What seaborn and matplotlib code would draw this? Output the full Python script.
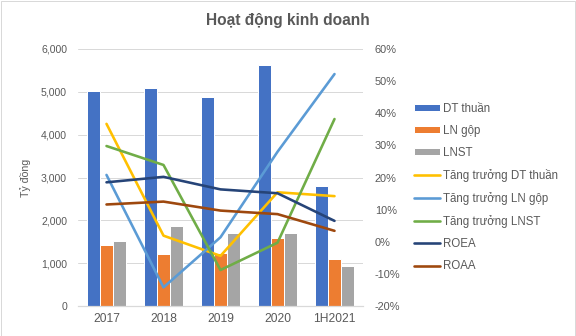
import matplotlib
matplotlib.use("Agg")
import matplotlib.pyplot as plt
import matplotlib.ticker as mticker
import seaborn as sns
import pandas as pd

categories = ["2017", "2018", "2019", "2020", "1H2021"]
dt_thuan = [5010, 5100, 4890, 5630, 2800]
ln_gop = [1424, 1214, 1240, 1590, 1100]
lnst = [1518, 1868, 1711, 1711, 934]
tt_dt = [36.7, 1.9, -4.4, 15.4, 14.2]
tt_ln_gop = [20.8, -14.2, 1.4, 28.0, 52.2]
tt_lnst = [29.8, 23.9, -8.8, -0.3, 38.2]
roea = [18.5, 20.2, 16.3, 15.1, 6.5]
roaa = [11.6, 12.5, 9.7, 8.6, 3.4]

bar_names = ["DT thuần", "LN gộp", "LNST"]
line_names = ["Tăng trưởng DT thuần", "Tăng trưởng LN gộp", "Tăng trưởng LNST", "ROEA", "ROAA"]
bar_colors = ["#4472C4", "#ED7D31", "#A5A5A5"]
line_colors = ["#FFC000", "#5B9BD5", "#70AD47", "#264478", "#9E480E"]

bars = pd.DataFrame({
    "cat": categories * 3,
    "series": sum([[n] * len(categories) for n in bar_names], []),
    "value": dt_thuan + ln_gop + lnst,
})
line_vals = [tt_dt, tt_ln_gop, tt_lnst, roea, roaa]
lines = pd.DataFrame({
    "pos": list(range(len(categories))) * len(line_names),
    "series": sum([[n] * len(categories) for n in line_names], []),
    "value": sum(line_vals, []),
})

sns.set_theme(style="white")
font = ["Liberation Sans", "DejaVu Sans"]
plt.rcParams["font.family"] = font
plt.rcParams["axes.grid"] = False
tc = "#595959"

fig = plt.figure(figsize=(8, 336 / 72), dpi=72)
ax = fig.add_axes([78 / 576, 1 - 306 / 336, 285 / 576, 257 / 336])

sns.barplot(data=bars, x="cat", y="value", hue="series", hue_order=bar_names,
            palette=bar_colors, width=0.67, gap=0, saturation=1, ax=ax,
            order=categories, legend=True, errorbar=None)
ax.set_ylim(0, 6000)
ax.set_xlim(-0.5, 4.5)
ax.yaxis.set_major_locator(mticker.MultipleLocator(1000))
ax.yaxis.set_major_formatter(mticker.FuncFormatter(lambda v, p: f"{int(v):,}"))
for s in ["top", "right", "left"]:
    ax.spines[s].set_visible(False)
ax.spines["bottom"].set_color("#D9D9D9")
ax.set_xlabel("")
ax.set_ylabel("Tỷ đồng", color=tc, fontsize=10.5, labelpad=10)
ax.tick_params(axis="y", length=0, labelsize=10.5, labelcolor=tc, pad=11)
ax.tick_params(axis="x", length=0, labelsize=12, labelcolor=tc, pad=7)

ax2 = ax.twinx()
sns.lineplot(data=lines, x="pos", y="value", hue="series", hue_order=line_names,
             palette=line_colors, linewidth=2.6, ax=ax2, legend=True, sort=False,
             errorbar=None)
ax2.set_ylim(-20, 60)
ax2.set_xlim(-0.5, 4.5)
ax2.yaxis.set_major_locator(mticker.MultipleLocator(10))
ax2.yaxis.set_major_formatter(mticker.FuncFormatter(lambda v, p: f"{int(round(v))}%"))
ax2.tick_params(axis="y", length=0, labelsize=11, labelcolor=tc, pad=12)
ax2.set_ylabel("")
ax2.set_xlabel("")
for s in ax2.spines.values():
    s.set_visible(False)

ax.yaxis.grid(True, color="#D9D9D9", linewidth=1)
ax.set_axisbelow(True)

h1, l1 = ax.get_legend_handles_labels()
h2, l2 = ax2.get_legend_handles_labels()
if ax.get_legend():
    ax.get_legend().remove()
if ax2.get_legend():
    ax2.get_legend().remove()
leg = ax2.legend(h1 + h2, l1 + l2, loc="upper left",
                 bbox_to_anchor=(409 / 576, 1 - 98 / 336), bbox_transform=fig.transFigure,
                 frameon=False, fontsize=11.5, labelspacing=0.88, handlelength=2.3,
                 handleheight=0.5, handletextpad=0.25, borderaxespad=0)
for t in leg.get_texts():
    t.set_color(tc)

fig.text(288 / 576, 1 - 20 / 336, "Hoạt động kinh doanh", ha="center", va="center",
         fontsize=15.5, fontweight="bold", color=tc)

fig.patches.append(plt.Rectangle((0.001, 0.001), 0.998, 0.997, transform=fig.transFigure,
                                 fill=False, edgecolor="#D9D9D9", linewidth=1))

fig.savefig("out.png", dpi=72)
